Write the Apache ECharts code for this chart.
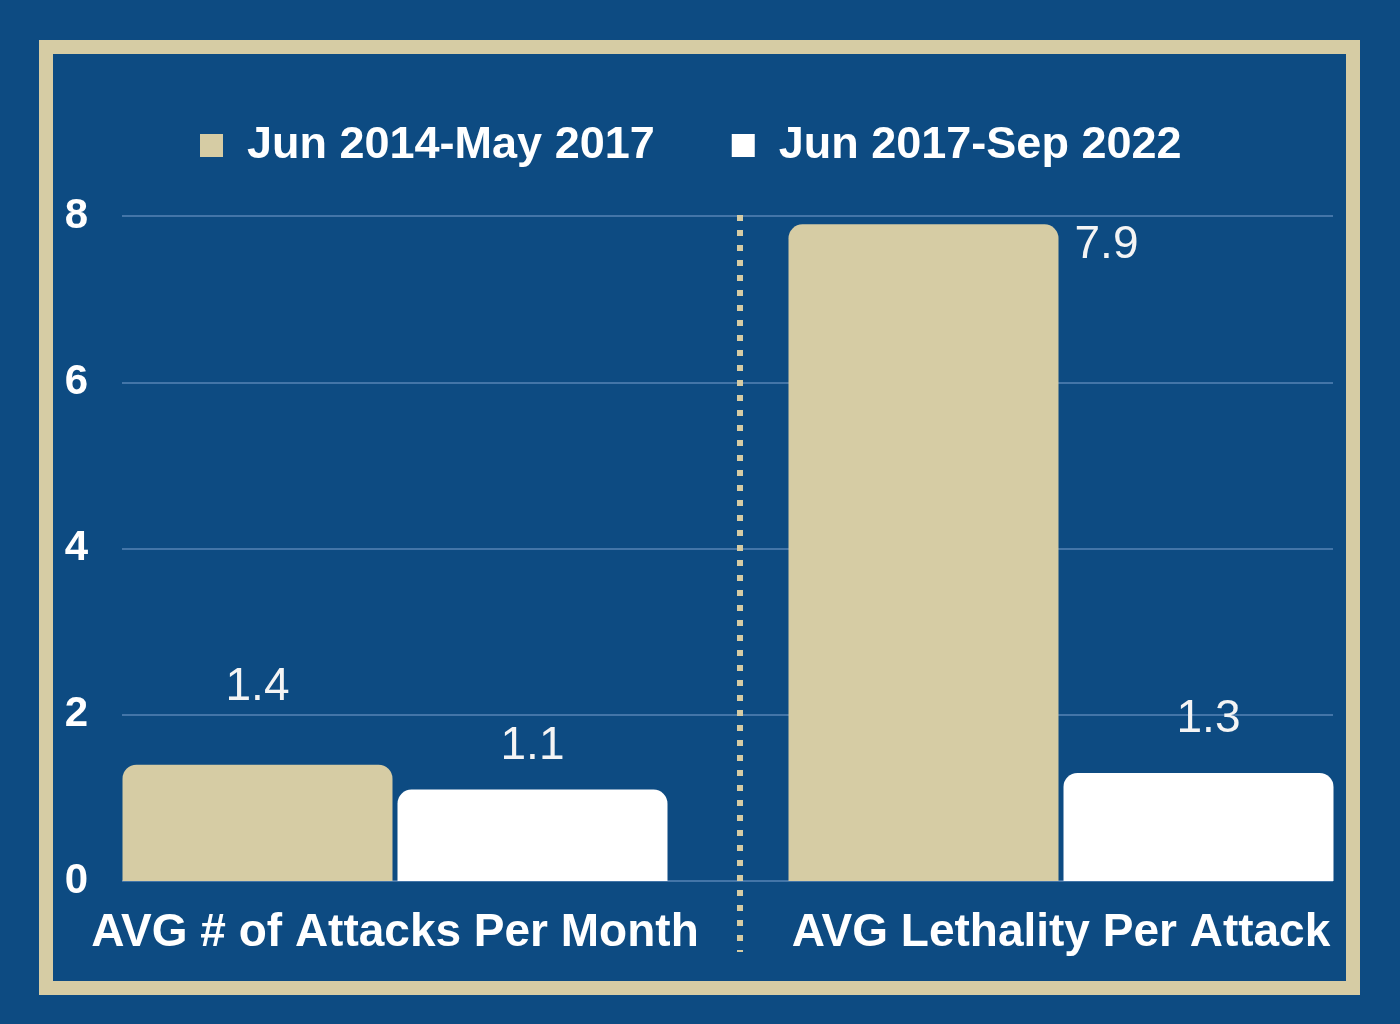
<!DOCTYPE html>
<html>
<head>
<meta charset="utf-8">
<script src="https://cdn.jsdelivr.net/npm/echarts@6/dist/echarts.min.js"></script>
<style>
  html, body { margin: 0; padding: 0; background: #0d4b82; }
  #chart { width: 1400px; height: 1024px; }
</style>
</head>
<body>
<div id="chart"></div>
<script>
// 图表数据
const categories = ["AVG # of Attacks Per Month", "AVG Lethality Per Attack"];
const seriesNames = ["Jun 2014-May 2017", "Jun 2017-Sep 2022"];
const earlyValues = [1.4, 7.9];
const lateValues = [1.1, 1.3];
const yTicks = [0, 2, 4, 6, 8];

const beige = "#d6cca4";
const blue = "#0d4b82";
const gridColor = "#5683b4";

// 标签偏移（参考图中标签位置不统一）
const earlyLabelOffsets = [[0, -54], [183, 44]];
const lateLabelOffsets = [[0, -20], [10, -31]];

function buildData(values, offsets) {
  return values.map((v, i) => ({
    value: v,
    label: { offset: offsets[i] },
  }));
}

const labelStyle = {
  show: true,
  position: "top",
  distance: 0,
  color: "#f4f4f4",
  fontSize: 46,
  fontFamily: "Liberation Sans, Arial, sans-serif",
};

const myChart = echarts.init(document.getElementById("chart"));

const option = {
  backgroundColor: blue,
  animation: false,
  textStyle: { fontFamily: "Liberation Sans, Arial, sans-serif" },
  legend: {
    data: seriesNames,
    left: 195,
    top: 118,
    icon: "rect",
    itemWidth: 23,
    itemHeight: 23,
    itemGap: 77,
    textStyle: {
      color: "#ffffff",
      fontSize: 45,
      fontWeight: "bold",
      padding: [0, 0, 0, 19],
    },
  },
  grid: [
    { left: 62, right: 6, top: 216, bottom: 143 },
    { left: 122, right: 67, top: 216, bottom: 143 },
  ],
  xAxis: [
    {
      type: "category",
      gridIndex: 0,
      data: categories,
      axisLine: { show: false },
      axisTick: { show: false },
      axisLabel: {
        interval: 0,
        hideOverlap: false,
        color: "#ffffff",
        fontSize: 46,
        fontWeight: "bold",
        margin: 29,
      },
    },
    { type: "value", gridIndex: 1, show: false, min: 0, max: 1 },
  ],
  yAxis: [
    { type: "value", gridIndex: 0, min: 0, max: 8, interval: 2, show: false },
    {
      type: "value",
      gridIndex: 1,
      min: yTicks[0],
      max: yTicks[yTicks.length - 1],
      interval: 2,
      axisLine: { show: false },
      axisTick: { show: false },
      axisLabel: {
        color: "#ffffff",
        fontSize: 42,
        fontWeight: "bold",
        margin: 34,
      },
      splitLine: { lineStyle: { color: gridColor, width: 1.5 } },
    },
  ],
  series: [
    {
      name: seriesNames[0],
      type: "bar",
      xAxisIndex: 0,
      yAxisIndex: 0,
      barWidth: 270,
      barGap: "1.85%",
      itemStyle: { color: beige, borderRadius: [14, 14, 0, 0] },
      label: labelStyle,
      data: buildData(earlyValues, earlyLabelOffsets),
      z: 3,
    },
    {
      name: seriesNames[1],
      type: "bar",
      xAxisIndex: 0,
      yAxisIndex: 0,
      barWidth: 270,
      itemStyle: { color: "#ffffff", borderRadius: [14, 14, 0, 0] },
      label: labelStyle,
      data: buildData(lateValues, lateLabelOffsets),
      z: 3,
    },
  ],
  graphic: [
    // 外框
    {
      type: "rect",
      shape: { x: 46, y: 47, width: 1307, height: 941 },
      style: { fill: null, stroke: beige, lineWidth: 14 },
      z: 10,
    },
    // 中间虚线分隔
    {
      type: "line",
      shape: { x1: 740, y1: 215, x2: 740, y2: 952 },
      style: { stroke: beige, lineWidth: 6, lineDash: [6, 9] },
      z: 10,
    },
  ],
};

myChart.setOption(option);
</script>
</body>
</html>
